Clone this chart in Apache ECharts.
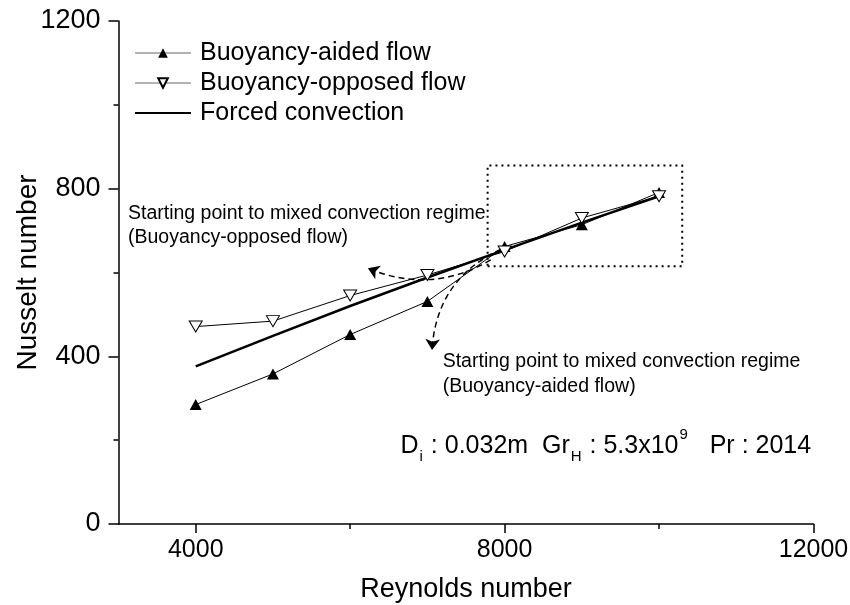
<!DOCTYPE html>
<html><head><meta charset="utf-8">
<script src="https://cdn.jsdelivr.net/npm/echarts@6/dist/echarts.min.js"></script>
<style>html,body{margin:0;padding:0;background:#fff}#c{width:850px;height:605px}</style>
</head><body><div id="c"></div>
<script>
// ---- data ----
const reynolds = [4000, 5000, 6000, 7000, 8000, 9000, 10000];
const aidedNu = [285, 358, 452, 531, 662, 714, 791];
const opposedNu = [471, 484, 545, 594, 650, 730, 782];
const forcedNu = [376, 449, 520, 588, 654, 719, 782];
const xTickValues = [4000, 8000, 12000];
const xMinorTickValues = [6000, 10000];
const seriesNames = ['Buoyancy-aided flow', 'Buoyancy-opposed flow', 'Forced convection'];
// annotation geometry in data units
const zoomBox = [[7780, 615], [10300, 855]];
const arrowOpposed = [[7820, 630], [6230, 610]];
const arrowAided = [[7950, 655], [7060, 415]];

const FONT = '"Liberation Sans", Arial, sans-serif';
const pairs = (xs, ys) => xs.map((x, i) => [x, ys[i]]);
const plain = v => String(v);

const chart = echarts.init(document.getElementById('c'), null, {renderer: 'canvas'});
const option = {
  animation: false,
  backgroundColor: '#fff',
  grid: {left: 118.5, right: 36.5, top: 21, bottom: 81, containLabel: false, outerBoundsMode: 'none'},
  legend: {
    data: [
      {name: seriesNames[0], lineStyle: {color: '#666', width: 1}},
      {name: seriesNames[1], lineStyle: {color: '#666', width: 1}},
      {name: seriesNames[2], itemStyle: {opacity: 0, color: 'rgba(0,0,0,0)', borderWidth: 0}, lineStyle: {color: '#000', width: 2}}
    ],
    orient: 'vertical',
    left: 129, top: 33,
    itemWidth: 56, itemHeight: 12, itemGap: 0,
    textStyle: {fontSize: 25, lineHeight: 30, color: '#000', fontFamily: FONT, padding: [0, 0, 0, 4]}
  },
  xAxis: [{
    type: 'value', min: 3000, max: 12000,
    axisLine: {lineStyle: {color: '#000', width: 1.5}},
    axisTick: {customValues: xTickValues, length: 9, lineStyle: {color: '#000', width: 1.5}},
    axisLabel: {customValues: xTickValues, formatter: plain, fontSize: 25, color: '#000', margin: 14, fontFamily: FONT},
    splitLine: {show: false},
    name: 'Reynolds number', nameLocation: 'middle', nameGap: 52, nameMoveOverlap: false,
    nameTextStyle: {fontSize: 27, color: '#000', fontFamily: FONT}
  }, {
    type: 'value', min: 3000, max: 12000, position: 'bottom',
    axisLine: {show: false},
    axisTick: {customValues: xMinorTickValues, length: 5, lineStyle: {color: '#000', width: 1.5}},
    axisLabel: {show: false},
    splitLine: {show: false}
  }],
  yAxis: {
    type: 'value', min: 0, max: 1200, interval: 400,
    axisLine: {show: true, lineStyle: {color: '#000', width: 1.5}},
    axisTick: {show: true, length: 10, lineStyle: {color: '#000', width: 1.5}},
    minorTick: {show: true, splitNumber: 2, length: 5, lineStyle: {color: '#000', width: 1.5}},
    axisLabel: {formatter: plain, fontSize: 27, color: '#000', margin: 18, fontFamily: FONT},
    splitLine: {show: false},
    name: 'Nusselt number', nameLocation: 'middle', nameGap: 76, nameMoveOverlap: false,
    nameTextStyle: {fontSize: 28, color: '#000', fontFamily: FONT}
  },
  series: [{
    name: seriesNames[2], type: 'line', xAxisIndex: 0,
    data: pairs(reynolds, forcedNu), symbol: 'none', smooth: false,
    lineStyle: {color: '#000', width: 2.5}, itemStyle: {color: '#000'}, z: 2,
    markArea: {
      silent: true,
      itemStyle: {color: 'rgba(0,0,0,0)', borderColor: '#000', borderWidth: 2, borderType: [2, 4]},
      data: [[{coord: zoomBox[0]}, {coord: zoomBox[1]}]]
    }
  }, {
    name: seriesNames[0], type: 'line', xAxisIndex: 0,
    data: pairs(reynolds, aidedNu), symbol: 'triangle', symbolSize: [12, 11],
    lineStyle: {color: '#000', width: 1}, itemStyle: {color: '#000'}, z: 3
  }, {
    name: seriesNames[1], type: 'line', xAxisIndex: 0,
    data: pairs(reynolds, opposedNu), symbol: 'triangle', symbolRotate: 180, symbolSize: [13, 11],
    lineStyle: {color: '#000', width: 1}, itemStyle: {color: '#fff', borderColor: '#000', borderWidth: 1}, z: 4
  }, {
    type: 'lines', coordinateSystem: 'cartesian2d', xAxisIndex: 0, yAxisIndex: 0,
    symbol: ['none', 'arrow'], symbolSize: [8, 11], silent: true,
    lineStyle: {color: '#000', width: 1.5, type: [6, 4], opacity: 1},
    data: [
      {coords: arrowOpposed, lineStyle: {curveness: 0.25}},
      {coords: arrowAided, lineStyle: {curveness: -0.3}}
    ], z: 5
  }],
  graphic: [{
    type: 'text', x: 128, y: 201.3,
    style: {text: 'Starting point to mixed convection regime\n(Buoyancy-opposed flow)',
      fontSize: 19.5, fontFamily: FONT, fill: '#000', lineHeight: 24, verticalAlign: 'top', align: 'left'}
  }, {
    type: 'text', x: 442.7, y: 349.2,
    style: {text: 'Starting point to mixed convection regime\n(Buoyancy-aided flow)',
      fontSize: 19.5, fontFamily: FONT, fill: '#000', lineHeight: 25, verticalAlign: 'top', align: 'left'}
  }, {
    type: 'text', x: 400.5, y: 446,
    style: {
      text: '{m|D}{sub|i}{m| : 0.032m  Gr}{sub|H}{m| : 5.3x10}{sup|9}{m|   Pr : 2014}',
      verticalAlign: 'middle', align: 'left', fill: '#000', fontFamily: FONT,
      rich: {
        m: {fontSize: 25, fontFamily: FONT, fill: '#000', lineHeight: 30},
        sub: {fontSize: 15, fontFamily: FONT, fill: '#000', lineHeight: 15, padding: [22, 1, 0, 1]},
        sup: {fontSize: 15, fontFamily: FONT, fill: '#000', lineHeight: 15, padding: [0, 1, 22, 1]}
      }
    }
  }]
};
chart.setOption(option);
</script>
</body></html>
